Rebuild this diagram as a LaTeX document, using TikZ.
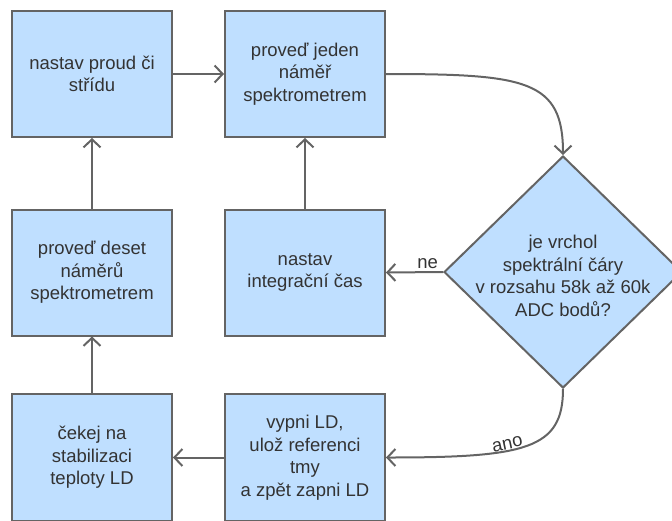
\documentclass[tikz,border=0pt]{standalone}
\usepackage{fontspec}
\setmainfont{Liberation Sans}
\usepackage{xcolor}
\usetikzlibrary{arrows.meta,shapes.geometric,positioning}

\definecolor{boxfill}{HTML}{BFDFFF}
\definecolor{boxline}{HTML}{646464}
\definecolor{txtgray}{HTML}{333333}

\begin{document}
\begin{tikzpicture}[x=1pt,y=-1pt,
		krok/.style={draw=boxline,line width=2pt,fill=boxfill,minimum width=160pt,minimum height=126pt,align=center,text=txtgray,inner sep=2pt,font=\fontsize{18.5}{22.5}\selectfont},
		rozhod/.style={diamond,draw=boxline,line width=2pt,fill=boxfill,minimum width=238pt,minimum height=232pt,inner sep=0pt},
		popis/.style={align=center,text=txtgray,inner sep=2pt,font=\fontsize{18.5}{22.5}\selectfont},
		sipka/.style={draw=boxline,line width=2pt,-{Straight Barb[length=8pt,width=17pt]}}]
				\path[use as bounding box,clip] (0,0) rectangle (672,520);
				% kroky
				\node[krok] (nastav) at (92,74) {nastav proud či\\střídu};
				\node[krok] (jeden) at (305,74) {proveď jeden\\náměř\\spektrometrem};
				\node[krok] (deset) at (92,272.5) {proveď deset\\náměrů\\spektrometrem};
				\node[krok] (integ) at (305,272.5) {nastav\\integrační čas};
				\node[krok,minimum height=127pt] (cekej) at (92,457.5) {čekej na\\stabilizaci\\teploty LD};
				\node[krok,minimum height=127pt] (vypni) at (305,457.5) {vypni LD,\\ulož referenci\\tmy\\a zpět zapni LD};
				% rozhodnuti
				\node[rozhod] (dotaz) at (563,272) {};
				\node[popis] (dotaztxt) at (563,276) {je vrchol\\spektrální čáry\\v rozsahu 58k až 60k\\ADC bodů?};
				% sipky
				\draw[sipka] (nastav) -- (jeden);
				\draw[sipka] (jeden.east) .. controls +(140,0) and +(0,-75) .. (dotaz.north);
				\draw[sipka] (dotaz.west) -- node[popis,pos=0.27,anchor=south] {ne} (integ.east);
				\draw[sipka] (integ) -- (jeden);
				\draw[sipka] (dotaz.south) .. controls +(0,60) and +(140,0) .. node[popis,pos=0.6,anchor=south,rotate=12,inner sep=0.5pt] {ano} (vypni.east);
				\draw[sipka] (vypni) -- (cekej);
				\draw[sipka] (cekej) -- (deset);
				\draw[sipka] (deset) -- (nastav);
\end{tikzpicture}
\end{document}
